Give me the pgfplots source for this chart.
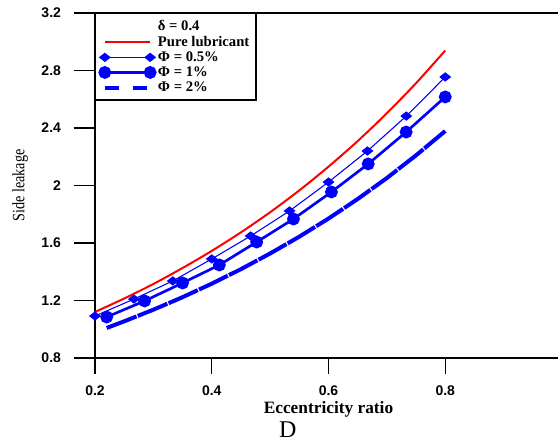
\documentclass[border=0pt]{standalone}
\usepackage{fontspec}
\setmainfont{Liberation Serif}
\setsansfont{Liberation Sans}
\usepackage{pgfplots}
\pgfplotsset{compat=1.18}

\definecolor{pureRed}{RGB}{255,0,0}
\definecolor{nanoBlue}{RGB}{0,0,255}

\begin{document}
\begin{tikzpicture}
\begin{axis}[
  scale only axis,
  width=350.25pt, height=258.75pt,
  xmin=0.2, xmax=1.0, ymin=0.8, ymax=3.2,
  axis x line=box, axis y line=left,
  axis line style={-, line width=1.1pt, black},
  xtick pos=bottom, ytick pos=left,
  tick align=outside,
  major tick length=16pt,
  x tick style={/pgfplots/major tick length=12pt},
  tick style={black, line width=1.1pt},
  xtick={0.2,0.4,0.6,0.8},
  xticklabels={0.2,0.4,0.6,0.8},
  ytick={0.8,1.2,1.6,2,2.4,2.8,3.2},
  yticklabels={0.8,1.2,1.6,2,2.4,2.8,3.2},
  ticklabel style={font=\fontsize{10.5}{12}\selectfont\sffamily\bfseries},
  yticklabel style={xshift=-6pt},
  xticklabel style={yshift=-1pt},
  /pgf/number format/assume math mode=true,
  xlabel={Eccentricity ratio},
  ylabel={\scalebox{0.82}[1]{Side leakage}},
  xlabel style={at={(axis description cs:0.5,0)}, anchor=center, yshift=-38.5pt,
    font=\fontsize{13}{15}\selectfont\bfseries},
  ylabel style={at={(axis description cs:0,0.5)}, anchor=center,
    yshift=56pt, font=\fontsize{13}{15}\selectfont},
  clip=false,
  legend style={at={(0,1)}, anchor=north west, draw=black, line width=1.1pt,
    fill=white, font=\fontsize{11}{12}\selectfont\bfseries,
    row sep=-1.5pt, inner sep=3pt, cells={anchor=west}},
  legend image code/.code={\draw plot coordinates {(0pt,0pt) (34pt,0pt)};},
]
\addlegendimage{empty legend}
\addlegendentry{δ = 0.4}

% pure lubricant
\addplot[pureRed, line width=1.5pt, smooth] coordinates {
  (0.20,1.120) (0.25,1.214) (0.30,1.315) (0.35,1.426) (0.40,1.545)
  (0.45,1.674) (0.50,1.814) (0.55,1.966) (0.60,2.131) (0.65,2.309)
  (0.70,2.503) (0.75,2.712) (0.80,2.939)};
\addlegendentry{Pure lubricant}

% 0.5 % additive
\addplot[nanoBlue, line width=0.8pt, mark=diamond*, mark size=3pt,
  mark options={xscale=1.7}] coordinates {
  (0.2000,1.092) (0.2667,1.210) (0.3333,1.336) (0.4000,1.489) (0.4667,1.649)
  (0.5333,1.823) (0.6000,2.024) (0.6667,2.240) (0.7333,2.483) (0.8000,2.755)};
\addlegendentry{Φ = 0.5\%}

% 1 % additive
\addplot[nanoBlue, line width=2pt, mark=*, mark size=3.8pt] coordinates {
  (0.220,1.085) (0.285,1.197) (0.350,1.322) (0.413,1.447) (0.477,1.607)
  (0.540,1.767) (0.605,1.955) (0.668,2.150) (0.733,2.372) (0.800,2.616)};
\addlegendentry{Φ = 1\%}

% 2 % additive
\addplot[nanoBlue, line width=3pt, dash pattern=on 24pt off 1pt,
  legend image code/.code={\draw[dash pattern=on 11pt off 10pt] (0pt,0pt) -- (34pt,0pt);}]
  coordinates {
  (0.22,1.009) (0.25,1.055) (0.30,1.136) (0.35,1.223) (0.40,1.317)
  (0.45,1.418) (0.50,1.527) (0.55,1.644) (0.60,1.770) (0.65,1.906)
  (0.70,2.052) (0.75,2.210) (0.80,2.379)};
\addlegendentry{Φ = 2\%}

\node[font=\fontsize{18}{20}\selectfont] at (rel axis cs:0.413,0) [yshift=-54pt] {D};
\coordinate (sw) at (rel axis cs:0,0);
\end{axis}
\pgfresetboundingbox
\path[use as bounding box] (sw) ++(-71.25pt,-63.75pt) rectangle ++(418.5pt,332.25pt);
\end{tikzpicture}
\end{document}
